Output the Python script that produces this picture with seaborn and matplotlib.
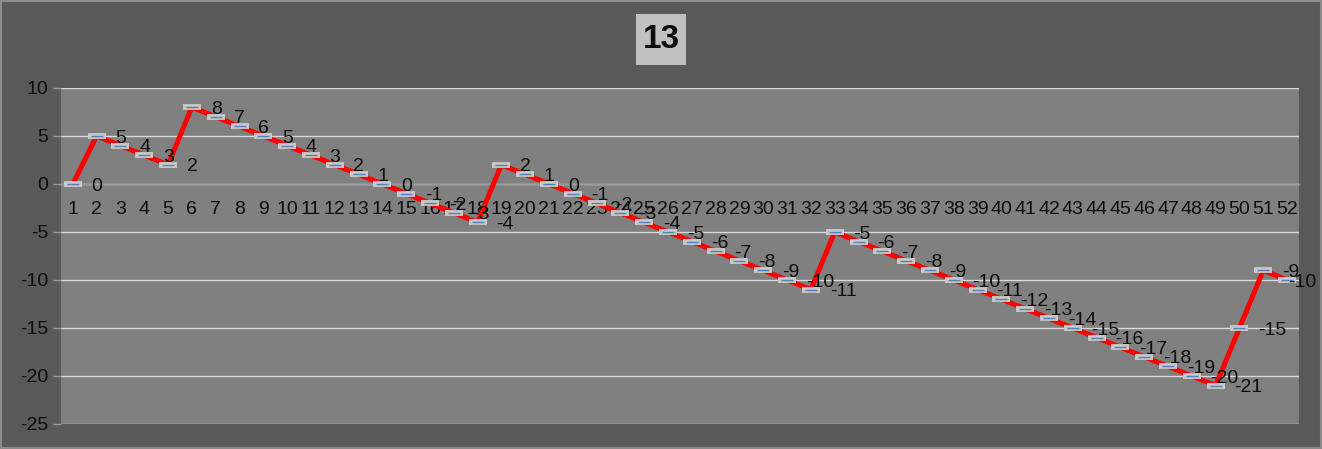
import numpy as np
import pandas as pd
import matplotlib
matplotlib.use("Agg")
import matplotlib.pyplot as plt
from matplotlib.patches import Rectangle
import seaborn as sns

# dados do gráfico
title = "13"
days = list(range(1, 53))
values = [0, 5, 4, 3, 2, 8, 7, 6, 5, 4, 3, 2, 1, 0, -1, -2, -3, -4,
          2, 1, 0, -1, -2, -3, -4, -5, -6, -7, -8, -9, -10, -11,
          -5, -6, -7, -8, -9, -10, -11, -12, -13, -14, -15, -16, -17, -18, -19, -20, -21,
          -15, -9, -10]
y_ticks = [-25, -20, -15, -10, -5, 0, 5, 10]

df = pd.DataFrame({"dia": days, "valor": values})

sns.set_style("dark")
plt.rcParams["font.family"] = ["Liberation Sans", "DejaVu Sans"]
plt.rcParams["axes.unicode_minus"] = False

fig = plt.figure(figsize=(13.22, 4.49), dpi=100)
fig.patch.set_facecolor("#595959")
fig.patches.append(Rectangle((0.001, 0.002), 0.998, 0.996, transform=fig.transFigure,
                             fill=False, edgecolor="#8c8c8c", linewidth=1.5))

ax = fig.add_axes([0.0461, 0.0557, 0.9365, 0.7484])
ax.set_facecolor("#808080")

# linha vermelha
sns.lineplot(data=df, x="dia", y="valor", ax=ax, color="#ff0000", linewidth=3.6, zorder=3)
# marcadores (traço cinza com linha azul)
sns.lineplot(data=df, x="dia", y="valor", ax=ax, linestyle="none", marker="_",
             markersize=13, markeredgewidth=4.2, markeredgecolor="#c8c8c8", zorder=4)
sns.lineplot(data=df, x="dia", y="valor", ax=ax, linestyle="none", marker="_",
             markersize=9, markeredgewidth=1.0, markeredgecolor="#4f81bd", zorder=5)

# rótulos de dados
for i, (d, v) in enumerate(zip(days, values)):
    dx = 1 if i == len(days) - 1 else 13.5
    ax.annotate(str(v), (d, v), xytext=(dx, -1.5), textcoords="offset points",
                ha="left", va="center", fontsize=14, color="#0d0d0d", zorder=6)

ax.set_xlim(0.5, 52.5)
ax.set_ylim(-25, 10)
ax.set_yticks(y_ticks)
ax.set_xticks(days)
ax.set_xticks(np.arange(0.5, 53, 1), minor=True)
ax.set_xticklabels([str(d) for d in days])
ax.grid(False)
ax.yaxis.grid(True, color="#d9d9d9", linewidth=1)
ax.set_axisbelow(True)

for s in ["top", "right", "left"]:
    ax.spines[s].set_visible(False)
ax.spines["bottom"].set_position(("data", 0))
ax.spines["bottom"].set_color("#9a9a9a")
ax.spines["bottom"].set_linewidth(1)

ax.tick_params(axis="x", which="major", length=0, pad=12.5, labelsize=14, colors="#0d0d0d")
ax.tick_params(axis="x", which="minor", length=6, width=1, color="#9a9a9a", direction="out")
ax.tick_params(axis="y", length=6, width=1, color="#9a9a9a", pad=3, labelsize=14,
               labelcolor="#0d0d0d", left=True)
ax.set_xlabel("")
ax.set_ylabel("")

# título em caixa cinza clara
fig.patches.append(Rectangle((636 / 1322, 1 - 65 / 449), 50 / 1322, 51 / 449,
                             transform=fig.transFigure, facecolor="#c0c0c0", edgecolor="none"))
fig.text(661 / 1322, 1 - 40 / 449, title, ha="center", va="center",
         fontsize=24, fontweight="bold", color="#0d0d0d")

fig.savefig("out.png", dpi=100, facecolor=fig.get_facecolor())
